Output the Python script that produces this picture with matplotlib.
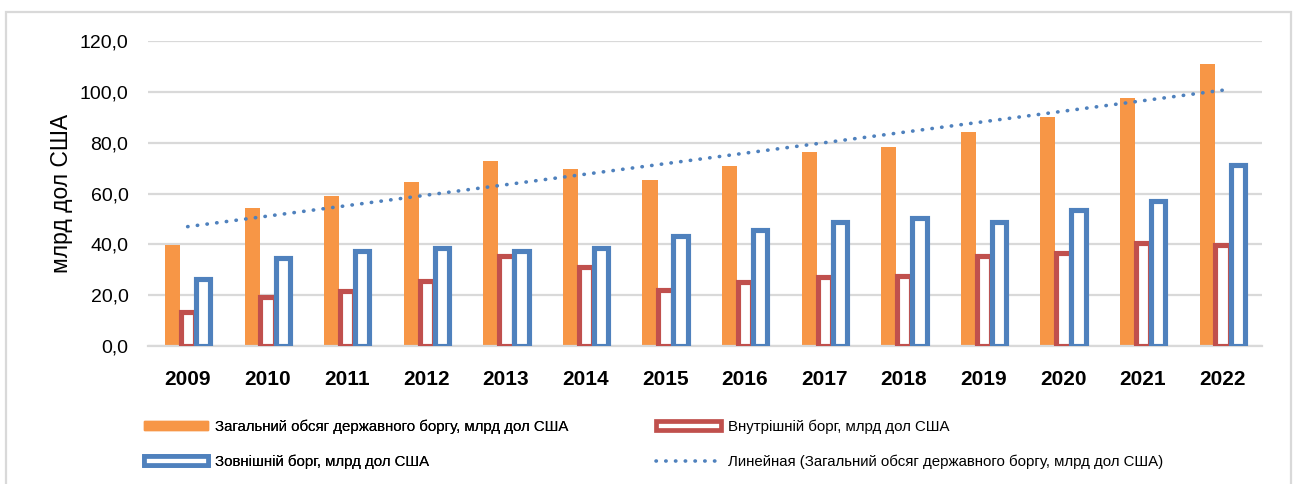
"""Public debt of Ukraine: total, domestic and external, 2009-2022."""

import matplotlib

matplotlib.use("Agg")
import matplotlib.pyplot as plt  # noqa: E402
import numpy as np  # noqa: E402
from matplotlib.lines import Line2D  # noqa: E402
from matplotlib.patches import Patch, Rectangle  # noqa: E402

years = ["2009", "2010", "2011", "2012", "2013", "2014", "2015",
         "2016", "2017", "2018", "2019", "2020", "2021", "2022"]
total_debt = [39.7, 54.2, 59.1, 64.4, 72.9, 69.6, 65.3,
              70.8, 76.2, 78.2, 84.2, 90.1, 97.8, 111.2]
domestic_debt = [13.5, 19.2, 21.6, 25.8, 35.6, 31.0, 21.9,
                 25.3, 27.3, 27.7, 35.4, 36.5, 40.7, 39.9]
external_debt = [26.4, 34.5, 37.4, 38.4, 37.4, 38.7, 43.4,
                 45.5, 48.9, 50.4, 48.8, 53.5, 57.0, 71.4]
y_ticks = [0, 20, 40, 60, 80, 100, 120]

label_total = "Загальний обсяг державного боргу, млрд дол США"
label_domestic = "Внутрішній борг, млрд дол США"
label_external = "Зовнішній борг, млрд дол США"
label_trend = "Линейная (Загальний обсяг державного боргу, млрд дол США)"

ORANGE = "#f79646"
RED = "#c0504d"
BLUE = "#4f81bd"
GRID = "#d9d9d9"

plt.rcParams["font.family"] = ["Liberation Sans", "DejaVu Sans"]

fig = plt.figure(figsize=(12.97, 4.84), dpi=100)
ax = fig.add_axes([0.114, 0.285, 0.859, 0.630])

x = np.arange(len(years))
ax.bar(x - 0.19, total_debt, width=0.19, color=ORANGE, zorder=2)
ax.bar(x + 0.005, domestic_debt, width=0.18, facecolor="white",
       edgecolor=RED, linewidth=3.7, zorder=3)
ax.bar(x + 0.195, external_debt, width=0.18, facecolor="white",
       edgecolor=BLUE, linewidth=3.7, zorder=4)

# linear trend of the total debt, as in the spreadsheet chart
coef = np.polyfit(x, total_debt, 1)
ax.plot(x, np.polyval(coef, x), color=BLUE, linestyle=(0, (0.1, 2.6)),
        linewidth=2.6, dash_capstyle="round", zorder=5)

ax.set_xlim(-0.5, len(years) - 0.5)
ax.set_ylim(0, 120)
ax.set_yticks(y_ticks)
ax.set_yticklabels([f"{v:.1f}".replace(".", ",") for v in y_ticks],
                   fontsize=14)
ax.set_xticks(x)
ax.set_xticklabels(years, fontsize=15, fontweight="bold")
ax.tick_params(axis="both", length=0)
ax.tick_params(axis="y", pad=14)
ax.tick_params(axis="x", pad=17)
ax.set_ylabel("млрд дол США", fontsize=16.5, labelpad=5)
ax.grid(axis="y", color=GRID, linewidth=1.6, zorder=0)
ax.set_axisbelow(True)
for side in ("top", "right", "left"):
    ax.spines[side].set_visible(False)
ax.spines["bottom"].set_color(GRID)
ax.spines["bottom"].set_linewidth(1.6)

h_total = Patch(facecolor=ORANGE, edgecolor=ORANGE)
h_domestic = Patch(facecolor="white", edgecolor=RED, linewidth=3.4)
h_external = Patch(facecolor="white", edgecolor=BLUE, linewidth=3.4)
h_trend = Line2D([], [], color=BLUE, linestyle=(0, (0.1, 2.6)),
                 linewidth=2.6, dash_capstyle="round")

legend_kw = dict(frameon=False, fontsize=10.8, handlelength=4.3,
                 handleheight=0.5, handletextpad=0.45, labelspacing=1.35,
                 borderaxespad=0, borderpad=0, loc="upper left")
leg1 = fig.legend([h_total, h_external], [label_total, label_external],
                  bbox_to_anchor=(0.111, 0.133), **legend_kw)
fig.legend([h_domestic, h_trend], [label_domestic, label_trend],
           bbox_to_anchor=(0.506, 0.133), **legend_kw)
fig.add_artist(leg1)

fig.add_artist(Rectangle((0.0046, -0.1), 0.9908, 1.075,
                         transform=fig.transFigure, fill=False,
                         edgecolor=GRID, linewidth=1.6))

fig.savefig("out.png", format="png")
plt.close(fig)
